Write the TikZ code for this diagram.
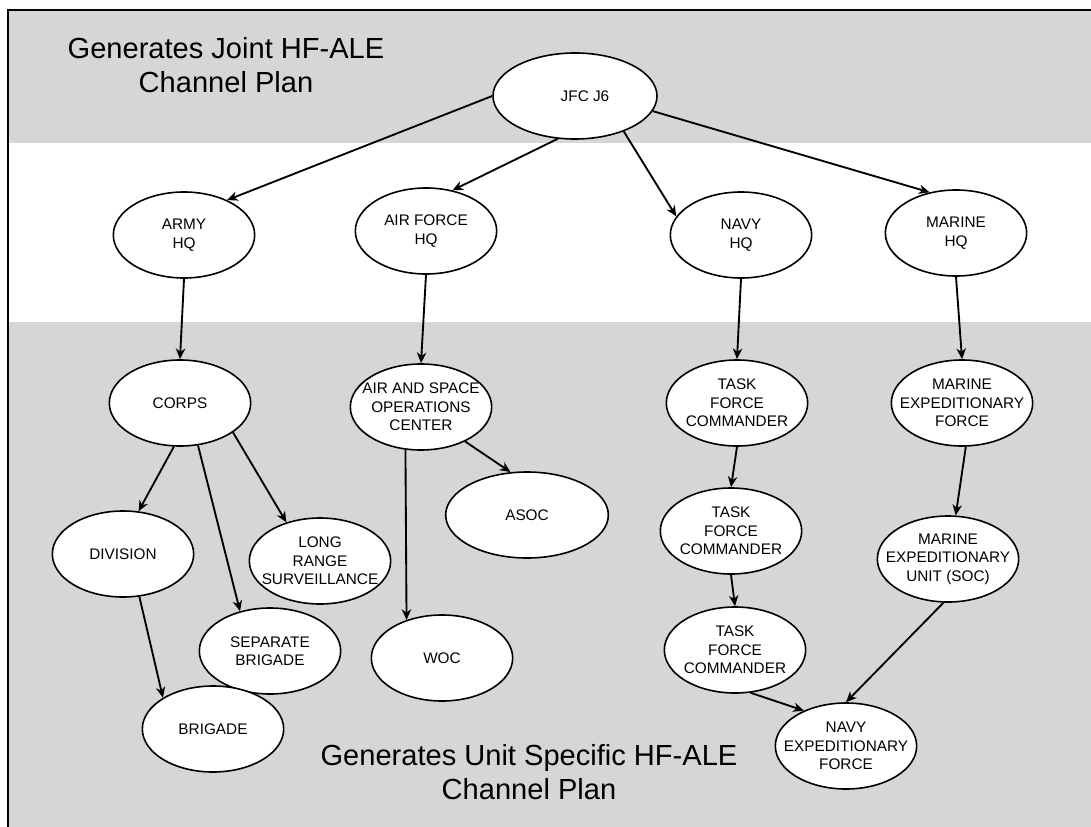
\documentclass[tikz,border=0pt]{standalone}
\usepackage{fontspec}
\setmainfont{Liberation Sans}
\usetikzlibrary{arrows.meta,shapes.geometric}
\definecolor{band}{HTML}{D6D6D6}

\begin{document}
\begin{tikzpicture}[x=0.75pt,y=-0.75pt]
    \tikzset{unit/.style = {shape=ellipse, draw, line width=1.2pt, fill=white, minimum width=106pt, minimum height=64.5pt, inner xsep=-12pt, inner ysep=0pt, align=center, font=\fontsize{11.5}{13.8}\selectfont}}
    \tikzset{link/.style = {draw, line width=1.4pt, -{Stealth[length=8pt, width=7pt, inset=2.5pt]}}}
    \tikzset{banner/.style = {align=center, font=\fontsize{21.8}{25}\selectfont}}

    \useasboundingbox (0,0) rectangle (1091,827);
    % bands
    \fill[band] (8,10) rectangle (1091,143);
    \fill[white] (8,143) rectangle (1091,322);
    \fill[band] (8,322) rectangle (1091,827);
    \draw[line width=2pt] (8,827) -- (8,10) -- (1091,10);

    % captions
    \node[banner] (joint) at (226,65) {Generates Joint HF-ALE\\Channel Plan};
    \node[banner] (specific) at (529,772) {Generates Unit Specific HF-ALE\\Channel Plan};

    % units
    \node[unit, minimum width=123pt] (jfc) at (575,96) {\hspace*{15pt}JFC J6};
    \node[unit] (army) at (184,235) {ARMY\\HQ};
    \node[unit] (af) at (426,231) {AIR FORCE\\HQ};
    \node[unit] (navy) at (741,235) {NAVY\\HQ};
    \node[unit] (marine) at (956,233) {MARINE\\HQ};

    \node[unit] (corps) at (180,403) {CORPS};
    \node[unit] (division) at (123,554) {DIVISION};
    \node[unit] (lrs) at (320,561) {LONG\\RANGE\\SURVEILLANCE};
    \node[unit] (sepbde) at (270,651) {SEPARATE\\BRIGADE};
    \node[unit] (brigade) at (213,729) {BRIGADE};

    \node[unit] (aoc) at (421,407) {AIR AND SPACE\\OPERATIONS\\CENTER};
    \node[unit, minimum width=122pt] (asoc) at (527,515) {ASOC};
    \node[unit] (woc) at (442,658) {WOC};

    \node[unit] (tfcA) at (737,403) {TASK\\FORCE\\COMMANDER};
    \node[unit] (tfcB) at (731,531) {TASK\\FORCE\\COMMANDER};
    \node[unit] (tfcC) at (735,650) {TASK\\FORCE\\COMMANDER};
    \node[unit] (mef) at (962,403) {MARINE\\EXPEDITIONARY\\FORCE};
    \node[unit] (meu) at (948,559) {MARINE\\EXPEDITIONARY\\UNIT (SOC)};
    \node[unit] (nef) at (846,746) {NAVY\\EXPEDITIONARY\\FORCE};

    % links
    \draw[link] (jfc.west) -- (army.39);
    \draw[link] (jfc.-112) -- (af.57);
    \draw[link] (jfc.-36) -- (navy.164);
    \draw[link] (jfc.-11) -- (marine.123);

    \draw[link] (army.south) -- (corps.north);
    \draw[link] (af.south) -- (aoc.north);
    \draw[link] (navy.south) -- (tfcA.north);
    \draw[link] (marine.south) -- (mef.north);

    \draw[link] (corps.-98) -- (division.70);
    \draw[link] (corps.-67) -- (sepbde.127);
    \draw[link] (corps.-29) -- (lrs.131);
    \draw[link] (division.-69) -- (brigade.148);

    \draw[link] (aoc.-110) -- (woc.133);
    \draw[link] (aoc.-38) -- (asoc.111);

    \draw[link] (tfcA.south) -- (tfcB.north);
    \draw[link] (tfcB.south) -- (tfcC.north);
    \draw[link] (tfcC.-70) -- (nef.140);
    \draw[link] (mef.-85) -- (meu.80);
    \draw[link] (meu.-96) -- (nef.north);
\end{tikzpicture}
\end{document}
